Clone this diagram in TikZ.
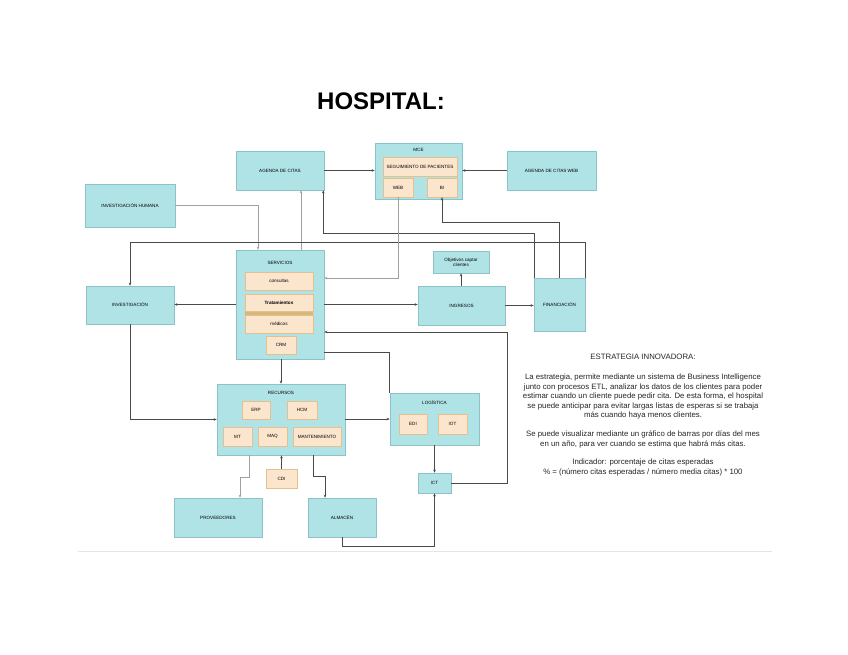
\documentclass[tikz,border=0pt]{standalone}
\usepackage{fontspec}
\setmainfont{Liberation Sans}
\usetikzlibrary{arrows.meta,calc}
\definecolor{tealf}{HTML}{B0E3E6}
\definecolor{teald}{HTML}{8CC3C8}
\definecolor{orf}{HTML}{FCE5CD}
\definecolor{ord}{HTML}{E3C08E}
\definecolor{strip}{HTML}{D6B87A}
\definecolor{lnc}{HTML}{4A4A4A}
\definecolor{lng}{HTML}{A0A0A0}
\tikzset{
  x=1pt,y=-1pt,
  tbox/.style={draw=teald,fill=tealf,line width=0.6pt,inner sep=0pt,font=\fontsize{4.6}{5.2}\selectfont,align=center},
  obox/.style={draw=ord,fill=orf,line width=0.6pt,inner sep=0pt,font=\fontsize{4.6}{5.2}\selectfont,align=center},
  ttl/.style={inner sep=0pt,font=\fontsize{4.6}{5.2}\selectfont},
  ln/.style={draw=lnc,line width=0.6pt},
  arr/.style={ln,-{Stealth[length=3pt,width=2.6pt]}},
  arrg/.style={draw=lng,line width=0.6pt,-{Stealth[length=3pt,width=2.6pt]}},
  para/.style={inner sep=0pt,align=center,font=\fontsize{7.8}{9.5}\selectfont,text=black!85}
}
\newcommand\bx[7]{\node[#6,minimum width={(#4-#2)*1pt},minimum height={(#5-#3)*1pt}] (#1) at ({(#2+#4)/2},{(#3+#5)/2}) {#7};}
\begin{document}
\begin{tikzpicture}
\useasboundingbox[fill=white] (0,0) rectangle (848,655);
\node[inner sep=0pt,font=\bfseries\fontsize{24}{26}\selectfont] (title) at (381,101) {HOSPITAL:};
% top row
\bx{tl}{236}{151}{324}{190}{tbox}{AGENDA DE CITAS}
\bx{tr}{507}{151}{596}{190}{tbox}{AGENDA DE CITAS WEB}
\bx{mce}{375}{143}{462}{199}{tbox}{}
\node[ttl] (mcet) at (418.5,150) {MCE};
\bx{seg}{383}{157}{457}{176}{obox}{SEGUIMIENTO DE PACIENTES}
\bx{web}{383}{178}{413}{197}{obox}{WEB}
\bx{bi}{427}{178}{457}{197}{obox}{BI}
\bx{ih}{85}{184}{175}{227}{tbox}{INVESTIGACIÓN HUMANA}
% servicios
\bx{serv}{236}{250}{324}{359}{tbox}{}
\node[ttl] (servt) at (280,263) {SERVICIOS};
\bx{cons}{245}{272}{313}{290}{obox}{consultas}
\node[fill=strip,minimum width=68pt,minimum height=4pt,inner sep=0pt] (strp) at (279,312.5) {};
\bx{trat}{245}{294}{313}{311}{obox}{\textbf{Tratamientos}}
\bx{med}{245}{315}{313}{333}{obox}{médicos}
\bx{crm}{266}{336}{296}{354}{obox}{CRM}
% middle row
\bx{inv}{86}{286}{174}{324}{tbox}{INVESTIGACIÓN}
\bx{ing}{418}{286}{505}{325}{tbox}{INGRESOS}
\bx{obj}{433}{251}{489}{273}{tbox}{Objetivos captar\\clientes}
\bx{fin}{534}{278}{585}{331}{tbox}{FINANCIACIÓN}
% recursos
\bx{rec}{217}{384}{345}{455}{tbox}{}
\node[ttl] (rect) at (281,393) {RECURSOS};
\bx{erp}{242}{401}{270}{419}{obox}{ERP}
\bx{hcm}{287}{401}{317}{419}{obox}{HCM}
\bx{mt}{223}{427}{252}{446}{obox}{MT}
\bx{maq}{258}{427}{287}{446}{obox}{MAQ}
\bx{mant}{293}{427}{341}{446}{obox}{MANTENIMIENTO}
% logistica
\bx{log}{390}{393}{479}{445}{tbox}{}
\node[ttl] (logt) at (434.5,403) {LOGÍSTICA};
\bx{edi}{399}{414}{427}{434}{obox}{EDI}
\bx{iot}{438}{414}{467}{434}{obox}{IOT}
% bottom
\bx{cdi}{266}{469}{297}{488}{obox}{CDI}
\bx{ict}{418}{473}{451}{493}{tbox}{ICT}
\bx{prov}{174}{498}{262}{537}{tbox}{PROVEEDORES}
\bx{alm}{308}{498}{376}{537}{tbox}{ALMACÉN}
% connectors
\draw[arr] (tl.east) -- (mce.west |- tl.east);
\draw[arr] (tr.west) -- (mce.east |- tr.west);
\draw[arrg] (ih.east) -| ([xshift=-22pt]serv.north);
\draw[arrg] ([xshift=21pt]serv.north) -- ([xshift=21pt]tl.south);
\draw[arr] ([xshift=1pt]fin.north west) |- ([xshift=-1pt]tl.south east |- 0,233) -- ([xshift=-1pt]tl.south east);
\draw[arr] ([xshift=26pt]fin.north west) |- (bi.south |- 0,222) -- (bi.south);
\draw[ln] (fin.north east) -- (fin.north east |- 0,242);
\draw[arr] (fin.north east |- 0,242) -| (inv.north);
\draw[arrg] (web.south) |- (serv.east |- 0,278);
\draw[arr] (serv.west) -- (inv.east |- serv.west);
\draw[arr] (serv.east) -- (ing.west |- serv.east);
\draw[arr] (ing.north -| obj.south) -- (obj.south);
\draw[arr] (ing.east) -- (fin.west |- ing.east);
\draw[arr] (inv.south) |- (rec.west);
\draw[arr] (serv.south -| rec.north) -- (rec.north);
\coordinate (c1) at (507,332);
\draw[arr] (ict.east) -| (c1) -- (serv.east |- c1);
\draw[ln] (log.north west) |- (serv.east |- 0,352);
\draw[arr] (rec.east |- log.west) -- (log.west);
\draw[arr] (log.south) -- (ict.north);
\coordinate (b1) at (249,455);
\coordinate (b2) at (240,477);
\draw[arrg] (b1) |- (b2) -- (prov.north -| b2);
\draw[arr] (cdi.north) -- (rec.south -| cdi.north);
\coordinate (b3) at (313,455);
\coordinate (b4) at (325,476);
\draw[arr] (b3) |- (b4) -- (alm.north -| b4);
\draw[arr] (alm.south) |- (ict.south |- 0,546) -- (ict.south);
% bottom rule
\coordinate (r1) at (78,551);
\coordinate (r2) at (772,551);
\draw[draw=black!10,line width=0.8pt] (r1) -- (r2);
% text
\node[para] (p0) at (643,357) {ESTRATEGIA INNOVADORA:};
\node[para,anchor=north] (p1) at (643,374) {La estrategia, permite mediante un sistema de Business Intelligence\\junto con procesos ETL, analizar los datos de los clientes para poder\\estimar cuando un cliente puede pedir cita. De esta forma, el hospital\\se puede anticipar para evitar largas listas de esperas si se trabaja\\más cuando haya menos clientes.};
\node[para,anchor=north] (p2) at (643,431) {Se puede visualizar mediante un gráfico de barras por días del mes\\en un año, para ver cuando se estima que habrá más citas.};
\node[para,anchor=north] (p3) at (643,459) {Indicador: porcentaje de citas esperadas\\\% = (número citas esperadas / número media citas) * 100};
\end{tikzpicture}
\end{document}
